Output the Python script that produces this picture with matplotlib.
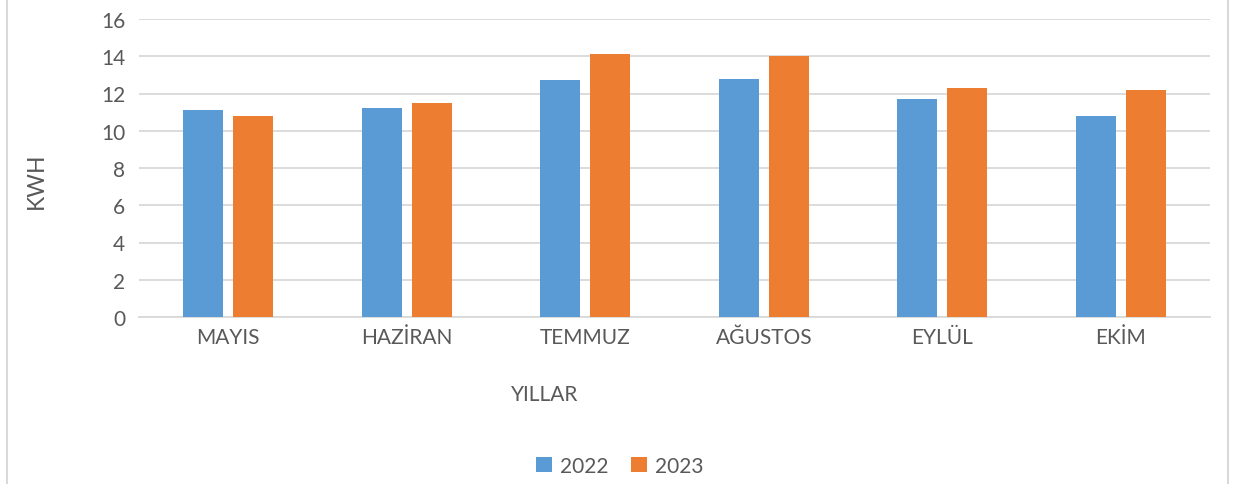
import matplotlib.pyplot as plt
import numpy as np

plt.rcParams['font.family'] = ['Lato', 'DejaVu Sans']

months = ['MAYIS', 'HAZİRAN', 'TEMMUZ', 'AĞUSTOS', 'EYLÜL', 'EKİM']
kwh_2022 = [11.1, 11.2, 12.7, 12.8, 11.7, 10.8]
kwh_2023 = [10.8, 11.5, 14.1, 14.0, 12.3, 12.2]
years = ['2022', '2023']

blue = '#5b9bd5'
orange = '#ed7d31'
txt = '#595959'
grid = '#d9d9d9'

fig = plt.figure(figsize=(12.35, 4.85), dpi=100)
ax = fig.add_axes([139/1235, 1 - 318/485, (1210-139)/1235, (318-20)/485])

x = np.arange(len(months))
w = 0.225
ax.bar(x - 0.14, kwh_2022, w, color=blue, label=years[0], zorder=3)
ax.bar(x + 0.14, kwh_2023, w, color=orange, label=years[1], zorder=3)

ax.set_xlim(-0.5, len(months) - 0.5)
ax.set_ylim(0, 16)
ax.set_yticks(range(0, 17, 2))
ax.set_xticks(x)
ax.set_xticklabels(months)
ax.tick_params(axis='both', length=0, labelsize=15, colors=txt)
ax.tick_params(axis='x', pad=7)
ax.tick_params(axis='y', pad=10)
ax.yaxis.grid(True, color=grid, lw=1.3, zorder=0)
for s in ['top', 'right', 'left']:
    ax.spines[s].set_visible(False)
ax.spines['bottom'].set_color(grid)
ax.spines['bottom'].set_linewidth(1.3)

fig.text(36/1235, 1 - 181/485, 'KWH', rotation=90, ha='center', va='center',
         fontsize=16.5, color=txt)
fig.text(545/1235, 1 - 395/485, 'YILLAR', ha='center', va='center',
         fontsize=15, color=txt)

leg = fig.legend(loc='center', bbox_to_anchor=(620/1235, 1 - 467/485), ncol=2,
                 frameon=False, fontsize=15, handlelength=0.75, handleheight=0.75,
                 handletextpad=0.4, columnspacing=1.1)
for t in leg.get_texts():
    t.set_color(txt)

# outer chart border
fig.add_artist(plt.Line2D([7/1235, 7/1235], [0, 1], color=grid, lw=1.5))
fig.add_artist(plt.Line2D([1228/1235, 1228/1235], [0, 1], color=grid, lw=1.5))

fig.savefig('out.png', dpi=100)
